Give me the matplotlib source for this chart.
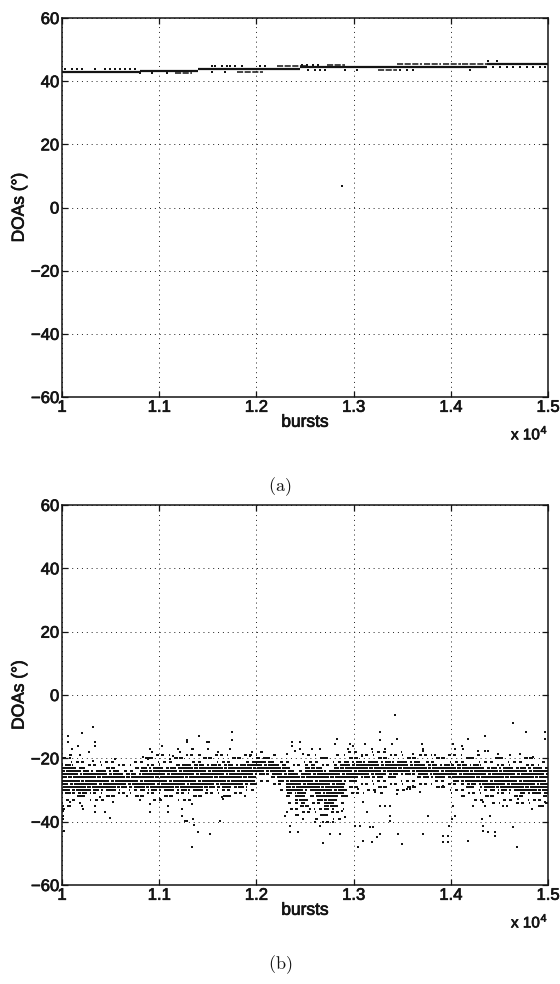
import matplotlib
matplotlib.use("Agg")
import matplotlib.pyplot as plt
import matplotlib.patheffects as pe
from matplotlib.ticker import FixedLocator, FuncFormatter

# ---------------------------------------------------------------
# (a) DOA estimates of the first source
# main track: runs of consecutive bursts sharing one DOA value
a_main_start = [10000, 10800, 11400, 12450, 13000, 13450, 14370]
a_main_end = [10800, 11400, 12450, 13000, 13450, 14370, 15000]
a_main_doa = [42.8, 43.3, 43.8, 44.4, 44.5, 44.6, 45.4]

# secondary clusters next to the main track
a_clu_start = [11162, 11797, 12209, 12723, 13255, 13444, 13720, 13920, 14120]
a_clu_end = [11334, 12071, 12517, 12912, 13444, 13700, 13900, 14100, 14370]
a_clu_doa = [42.5, 42.8, 44.8, 45.2, 43.5, 45.4, 45.4, 45.4, 45.4]

# isolated estimates
a_pt_burst = [10030, 10099, 10151, 10202, 10339, 10442, 10494, 10545, 10596,
              10648, 10699, 10751,
              10802, 10922, 11077,
              11540, 11574, 11643, 11694, 11728, 11780, 11848, 12037, 12088,
              11540, 11677,
              12466, 12518, 12586, 12638,
              12535, 12603, 12655, 12706, 12912, 13032,
              13478, 13547, 13615,
              14438, 14507, 14576, 14644, 14713, 14781, 14850, 14919, 14970,
              14387, 14473, 14198, 12881]
a_pt_doa = [43.75, 43.75, 43.75, 43.75, 43.75, 43.75, 43.75, 43.75, 43.75,
            43.75, 43.75, 43.75,
            42.5, 42.5, 42.5,
            44.8, 44.8, 44.8, 44.8, 44.8, 44.8, 44.8, 44.8, 44.8,
            42.8, 42.8,
            45.2, 45.2, 45.2, 45.2,
            43.5, 43.5, 43.5, 43.5, 43.5, 43.5,
            43.5, 43.5, 43.5,
            44.6, 44.6, 44.6, 44.6, 44.6, 44.6, 44.6, 44.6, 44.6,
            46.5, 46.5, 43.6, 6.8]

# ---------------------------------------------------------------
# (b) DOA estimates of the second source
# per 100-burst block: dense core (top/bottom DOA) and looser halo (top/bottom DOA)
b_block_start = [10000, 10100, 10200, 10300, 10400, 10500, 10600, 10700, 10800, 10900,
                 11000, 11100, 11200, 11300, 11400, 11500, 11600, 11700, 11800, 11900,
                 12000, 12100, 12200, 12300, 12400, 12500, 12600, 12700, 12800, 12900,
                 13000, 13100, 13200, 13300, 13400, 13500, 13600, 13700, 13800, 13900,
                 14000, 14100, 14200, 14300, 14400, 14500, 14600, 14700, 14800, 14900]
b_core_top = [-22, -23, -24, -24, -24, -24, -25, -25, -23, -23,
              -23, -23, -22, -22, -22, -22, -22, -22, -22, -21,
              -20, -21, -22, -24, -25, -22, -23, -24, -22, -21,
              -21, -21, -21, -21, -21, -21, -21, -22, -22, -22,
              -22, -22, -22, -23, -23, -23, -23, -23, -23, -23]
b_core_bottom = [-31, -31, -31, -30, -30, -30, -29, -29, -30, -30,
                 -30, -30, -30, -30, -30, -29, -29, -29, -29, -28,
                 -25, -25, -27, -31, -34, -30, -33, -36, -32, -27,
                 -26, -26, -26, -25, -25, -25, -25, -26, -26, -26,
                 -27, -28, -28, -29, -30, -30, -30, -31, -31, -31]
b_halo_top = [-19, -20, -21, -21, -21, -21, -22, -21, -20, -19,
              -19, -19, -19, -19, -19, -19, -19, -19, -19, -19,
              -18, -19, -20, -21, -21, -19, -19, -20, -19, -18,
              -18, -18, -18, -18, -18, -19, -19, -19, -19, -19,
              -19, -19, -19, -20, -20, -20, -20, -20, -20, -20]
b_halo_bottom = [-36, -34, -33, -33, -33, -32, -32, -32, -33, -33,
                 -33, -33, -33, -33, -32, -32, -32, -32, -32, -30,
                 -28, -28, -30, -36, -38, -37, -40, -41, -39, -32,
                 -31, -31, -31, -30, -30, -30, -29, -29, -29, -30,
                 -31, -33, -33, -33, -34, -34, -34, -34, -34, -35]

# scattered estimates away from the cloud
b_pt_burst = [
    10065, 10065, 10099, 10202, 10322, 10339, 10339, 10281, 10168, 10905,
    10922, 11025, 11197, 11214, 10030, 10082, 10185, 10322, 10545, 10837,
    10888, 11111, 11145,
    10202, 10219, 10339, 10339, 10442, 10494, 10905, 10905, 11094, 11094,
    10006, 10006, 10006, 10006, 10020, 10528, 10082, 10391, 10665, 10802,
    11008,
    11410, 11289, 11289, 11488, 11516, 11746, 11746, 11729, 12363, 12363,
    12449, 12312, 11334, 11351, 11420, 11506, 11608, 11951, 11934, 12397,
    12483,
    11334, 11351, 11358, 11403, 11523, 11334, 11643, 11660, 11883, 11231,
    11231, 12312, 12346, 12432, 12294, 12346, 11265, 11282, 11626,
    13427, 13272, 13272, 12826, 12809, 12963, 13444, 13118, 12449, 12449,
    12569, 12655, 12946, 12998, 13186, 13324, 13392, 13718, 13084, 13615,
    12689, 12758, 12861, 13049, 13101, 13186, 13238, 13272, 13169, 13204,
    13375, 13461, 13495, 13015, 13066, 13135, 13101, 13272, 13324, 13375,
    13375, 12912, 12878, 12792, 12655, 12603, 12483, 12552, 13547, 13615,
    13444, 13221, 13049, 13684, 13581,
    14644, 14775, 14970, 14970, 14181, 14353, 13701, 13711, 14027, 14044,
    14113, 14130, 14284, 14353, 14387, 13838, 14490, 14610, 14713, 14850,
    13770, 13718, 13924, 13924, 13976, 13976, 13986, 14010, 14044, 14027,
    14181, 14233, 14336, 14353, 14319, 14336, 14336, 14387, 14404, 14456,
    14456, 14541, 14576, 14644, 14696, 14833, 14953, 14970, 14679, 13924]
b_pt_doa = [
    -13.1, -14.9, -17.1, -12.0, -10.0, -14.9, -16.0, -17.9, -16.0, -17.1,
    -18.1, -16.0, -17.1, -18.1, -20.0, -20.0, -19.0, -20.7, -20.2, -19.7,
    -20.2, -20.2, -19.2,
    -35.0, -36.0, -35.0, -37.1, -37.1, -38.9, -34.4, -37.1, -35.0, -37.1,
    -35.0, -36.5, -38.1, -39.2, -42.8, -33.9, -33.9, -32.3, -31.8, -33.2,
    -32.8,
    -13.1, -14.2, -14.9, -14.9, -14.9, -11.8, -14.1, -17.1, -14.9, -16.0,
    -14.9, -18.6, -17.1, -17.1, -19.0, -17.1, -17.9, -17.9, -19.2, -17.6,
    -18.6,
    -34.4, -39.2, -40.9, -43.4, -43.9, -48.1, -32.3, -32.8, -31.8, -36.0,
    -38.1, -37.1, -43.4, -43.4, -38.1, -41.3, -39.7, -39.7, -39.7,
    -6.3, -11.8, -14.1, -13.9, -15.5, -15.5, -13.9, -15.5, -14.7, -17.1,
    -17.1, -17.1, -17.1, -16.0, -17.1, -17.1, -15.5, -17.1, -19.2, -18.6,
    -46.7, -43.9, -43.9, -48.1, -46.0, -46.5, -44.9, -43.9, -41.8, -41.8,
    -39.7, -43.9, -47.1, -41.3, -41.3, -37.1, -33.9, -34.9, -34.9, -34.9,
    -38.1, -38.6, -36.5, -40.2, -41.3, -40.2, -39.2, -36.0, -29.7, -28.6,
    -31.3, -30.7, -29.7, -30.7, -29.7,
    -8.8, -11.8, -11.8, -13.9, -13.9, -12.8, -15.5, -17.6, -15.5, -17.1,
    -16.0, -17.1, -17.6, -17.6, -17.6, -19.0, -18.6, -19.0, -18.6, -19.7,
    -38.1, -43.9, -44.4, -46.5, -46.5, -44.4, -41.3, -39.2, -38.1, -34.9,
    -46.0, -34.9, -33.9, -34.9, -39.2, -41.3, -42.8, -43.4, -38.1, -43.4,
    -44.4, -34.9, -34.9, -41.8, -32.8, -36.0, -34.9, -33.9, -48.1, -28.6]

# ---------------------------------------------------------------
x_ticks = [10000, 11000, 12000, 13000, 14000, 15000]
x_tick_labels = ["1", "1.1", "1.2", "1.3", "1.4", "1.5"]
y_ticks = [-60, -40, -20, 0, 20, 40, 60]

plt.rcParams["font.family"] = ["Liberation Sans", "DejaVu Sans"]
plt.rcParams["mathtext.fontset"] = "cm"

INK = "#141414"
HEAVY = [pe.withStroke(linewidth=0.5, foreground=INK)]
W, H = 560, 984
fig = plt.figure(figsize=(W / 100, H / 100), dpi=100)
ax_a = fig.add_axes([62 / W, 1 - 397 / H, 486 / W, 379 / H])
ax_b = fig.add_axes([62 / W, 1 - 885 / H, 486 / W, 380 / H])


def tick_text(v, pos):
    key = int(round(v))
    return x_tick_labels[x_ticks.index(key)] if key in x_ticks else ""


def style_axes(ax):
    ax.set_xlim(10000, 15000)
    ax.set_ylim(-60, 60)
    ax.xaxis.set_major_locator(FixedLocator(x_ticks))
    ax.xaxis.set_major_formatter(FuncFormatter(tick_text))
    ax.yaxis.set_major_locator(FixedLocator(y_ticks))
    ax.grid(True, color="#202020", linestyle=(0, (1, 4)), linewidth=0.7)
    ax.set_axisbelow(True)
    ax.tick_params(direction="in", length=4, width=0.9, top=True, right=True,
                   labelsize=12, pad=2, colors=INK)
    for lab in ax.get_xticklabels() + ax.get_yticklabels():
        lab.set_path_effects(HEAVY)
    for sp in ax.spines.values():
        sp.set_linewidth(1.1)
        sp.set_color(INK)
    ax.set_ylabel("DOAs (°)", fontsize=12.5, color=INK, labelpad=3,
                  path_effects=HEAVY)
    ax.set_xlabel("bursts", fontsize=12.5, color=INK, labelpad=0,
                  path_effects=HEAVY)
    ax.text(1.0, -0.095, "x 10$^{\\mathregular{4}}$", transform=ax.transAxes,
            ha="right", va="center", fontsize=11, color=INK, path_effects=HEAVY)


style_axes(ax_a)
style_axes(ax_b)

# (a): main track as a heavy stroke, clusters lighter, isolated estimates as dots
ax_a.hlines(a_main_doa, a_main_start, a_main_end, colors=INK, linewidth=1.6)
ax_a.hlines(a_clu_doa, a_clu_start, a_clu_end, colors=INK, linewidth=1.1,
            linestyles=(0, (4, 1)))
ax_a.plot(a_pt_burst, a_pt_doa, linestyle="none", marker="s", markersize=1.5,
          color=INK, markeredgewidth=0)

# (b): one stroke per integer DOA level in each block, crisp pixels
for i, (start, ct, cb, ht, hb) in enumerate(zip(b_block_start, b_core_top, b_core_bottom,
                                                 b_halo_top, b_halo_bottom)):
    for lv in range(int(hb), int(ht) + 1):
        phase = (3 * i + 5 * lv) % 9
        if cb < lv < ct:
            ax_b.hlines(lv, start, start + 100, colors=INK, linewidth=1.35,
                        linestyles=(phase, (7, 1.5)), antialiased=False)
        elif lv in (cb, ct):
            ax_b.hlines(lv, start, start + 100, colors=INK, linewidth=1.25,
                        linestyles=(phase, (2.5, 2.0)), antialiased=False)
        else:
            ax_b.hlines(lv, start, start + 100, colors=INK, linewidth=1.3,
                        linestyles=(phase, (1.4, 7.0)), antialiased=False)
ax_b.plot(b_pt_burst, b_pt_doa, linestyle="none", marker="s", markersize=1.7,
          color=INK, markeredgewidth=0)

fig.text(0.5, 1 - 487 / H, r"$\mathrm{(a)}$", ha="center", va="center",
         fontsize=13, color=INK)
fig.text(0.5, 1 - 965 / H, r"$\mathrm{(b)}$", ha="center", va="center",
         fontsize=13, color=INK)

fig.savefig("out.png", dpi=100, facecolor="white")
